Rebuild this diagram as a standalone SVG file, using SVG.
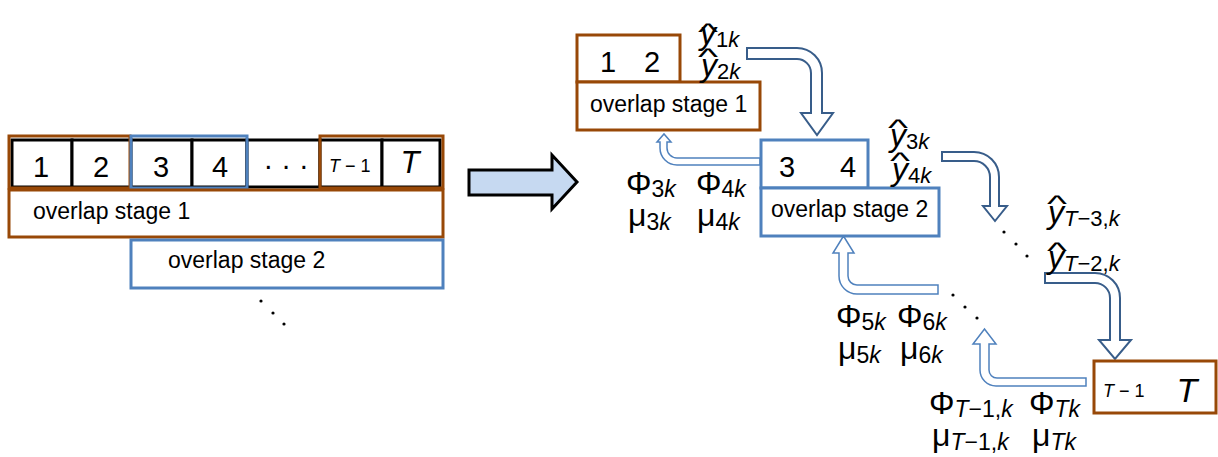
<svg xmlns="http://www.w3.org/2000/svg" width="1218" height="457" viewBox="0 0 1218 457">
<style>
text{font-family:"Liberation Sans",Arial,sans-serif;fill:#000}
.cell{fill:#fff;stroke:#000;stroke-width:3}
.br{fill:none;stroke:#984807;stroke-width:3}
.bl{fill:none;stroke:#4f81bd;stroke-width:3}
.brf{fill:#fff;stroke:#984807;stroke-width:3}
.blf{fill:#fff;stroke:#4f81bd;stroke-width:3}
.d{font-size:29px}
.lab{font-size:23px}
.it{font-style:italic}
.m{font-size:32px}
.s{font-size:23px}
.ys{font-size:22px}
.hat{font-size:24px;font-style:normal}
.dk{fill:#fff;stroke:#385d8a;stroke-width:2}
.lt{fill:#fff;stroke:#4f81bd;stroke-width:1.5}
.dot{fill:#000}
.big{fill:#c6d9f1;stroke:#000;stroke-width:3}
</style>
<rect width="1218" height="457" fill="#fff"/>

<!-- Left: sequence of cells -->
<g id="left-cells">
<rect class="cell" x="12" y="140" width="60" height="47"/>
<rect class="cell" x="72" y="140" width="59" height="47"/>
<rect class="cell" x="131" y="140" width="61" height="47"/>
<rect class="cell" x="192" y="140" width="55" height="47"/>
<rect class="cell" x="247" y="140" width="73" height="47"/>
<rect class="cell" x="320" y="140" width="62" height="47"/>
<rect class="cell" x="382" y="140" width="58" height="47"/>
<text class="d" x="41" y="177" text-anchor="middle">1</text>
<text class="d" x="101" y="177" text-anchor="middle">2</text>
<text class="d" x="161" y="177" text-anchor="middle">3</text>
<text class="d" x="220" y="177" text-anchor="middle">4</text>
<text class="d" x="286" y="175" text-anchor="middle">· · ·</text>
<text x="329" y="172" font-size="18"><tspan class="it">T</tspan> − 1</text>
<text x="410" y="173" font-size="31" class="it" text-anchor="middle">T</text>
</g>
<g id="left-groups">
<rect class="br" x="9" y="136" width="121" height="52"/>
<rect class="bl" x="131" y="136" width="116" height="52"/>
<rect class="br" x="320" y="136" width="123" height="52"/>
</g>
<g id="left-stage1">
<rect class="brf" x="9" y="190" width="434" height="47"/>
<text class="lab" x="33" y="219">overlap stage 1</text>
</g>
<g id="left-stage2">
<rect class="blf" x="131" y="240" width="312" height="48"/>
<text class="lab" x="168" y="268">overlap stage 2</text>
</g>
<g id="left-dots">
<circle class="dot" cx="261" cy="301" r="1.6"/>
<circle class="dot" cx="273" cy="313" r="1.6"/>
<circle class="dot" cx="284" cy="324" r="1.6"/>
</g>

<!-- Big arrow -->
<g id="big-arrow">
<path class="big" d="M469,170 H552 V155 L577,182 L552,209 V195 H469 Z"/>
</g>

<!-- Connectors -->
<g id="connectors">
<path class="dk" d="M747,48 H797 A25,25 0 0 1 822,73 V113 H833 L817,135 L801,113 H811 V73 A14,14 0 0 0 797,59 H747 Z"/>
<path class="dk" d="M942,152 H974 A25,25 0 0 1 999,177 V206 H1007 L995,221 L983,206 H990 V177 A16,16 0 0 0 974,161 H942 Z"/>
<path class="dk" d="M1045,273 H1095 A25,25 0 0 1 1120,298 V340 H1131 L1115,359 L1099,340 H1110 V298 A15,15 0 0 0 1095,283 H1045 Z"/>
<path class="lt" d="M760,158 H677 A10,10 0 0 1 667,148 V142 H671 L664,134 L657,142 H660 V148 A17,17 0 0 0 677,165 H760 Z"/>
<path class="lt" d="M938,285 H857 A9,9 0 0 1 848,276 V253 H854 L843.5,236 L833,253 H839 V276 A18,18 0 0 0 857,294 H938 Z"/>
<path class="lt" d="M1086,378 H997 A8,8 0 0 1 989,370 V344 H996 L984.5,329 L973,344 H980 V370 A16,16 0 0 0 996,386 H1086 Z"/>
</g>

<!-- Right: stage 1 -->
<g id="stage1">
<rect class="brf" x="577" y="35" width="103" height="47"/>
<rect class="brf" x="577" y="82" width="183" height="48"/>
<text class="d" x="608" y="72" text-anchor="middle" font-size="31">1</text>
<text class="d" x="652" y="72" text-anchor="middle" font-size="31">2</text>
<text class="lab" x="590" y="112">overlap stage 1</text>
</g>
<g id="stage2">
<rect class="blf" x="761" y="140" width="107" height="48"/>
<rect class="blf" x="761" y="188" width="178" height="48"/>
<text class="d" x="787" y="177" text-anchor="middle">3</text>
<text class="d" x="848" y="177" text-anchor="middle">4</text>
<text class="lab" x="771" y="217">overlap stage 2</text>
</g>
<g id="stageT">
<rect class="brf" x="1094" y="361" width="122" height="52"/>
<text x="1103" y="397" font-size="18"><tspan class="it">T</tspan> − 1</text>
<text x="1187" y="402" font-size="34" class="it" text-anchor="middle">T</text>
</g>

<!-- y-hat labels -->
<g id="yhat-labels">
<text class="m" x="700" y="44"><tspan class="hat" x="698" y="40" textLength="20" lengthAdjust="spacingAndGlyphs">^</tspan><tspan class="it" x="700" y="44">y</tspan><tspan class="ys" dy="3">1</tspan><tspan class="ys it">k</tspan></text>
<text class="m" x="701" y="76"><tspan class="hat" x="698" y="65" textLength="20" lengthAdjust="spacingAndGlyphs">^</tspan><tspan class="it" x="701" y="76">y</tspan><tspan class="ys" dy="3">2</tspan><tspan class="ys it">k</tspan></text>
<text class="m" x="890" y="146"><tspan class="hat" x="888" y="136" textLength="20" lengthAdjust="spacingAndGlyphs">^</tspan><tspan class="it" x="890" y="146">y</tspan><tspan class="ys" dy="3">3</tspan><tspan class="ys it">k</tspan></text>
<text class="m" x="892" y="180"><tspan class="hat" x="890" y="169" textLength="20" lengthAdjust="spacingAndGlyphs">^</tspan><tspan class="it" x="892" y="180">y</tspan><tspan class="ys" dy="3">4</tspan><tspan class="ys it">k</tspan></text>
<text class="m" x="1048" y="223"><tspan class="hat" x="1047" y="212" textLength="20" lengthAdjust="spacingAndGlyphs">^</tspan><tspan class="it" x="1048" y="223">y</tspan><tspan class="ys it" dy="3">T</tspan><tspan class="ys">−3,</tspan><tspan class="ys it">k</tspan></text>
<text class="m" x="1048" y="268"><tspan class="hat" x="1047" y="259" textLength="20" lengthAdjust="spacingAndGlyphs">^</tspan><tspan class="it" x="1048" y="268">y</tspan><tspan class="ys it" dy="3">T</tspan><tspan class="ys">−2,</tspan><tspan class="ys it">k</tspan></text>
</g>

<!-- Phi / mu labels -->
<g id="phi-mu-labels">
<text class="m" x="626" y="194">Φ<tspan class="s" dy="3">3</tspan><tspan class="s it">k</tspan></text>
<text class="m" x="696" y="194">Φ<tspan class="s" dy="3">4</tspan><tspan class="s it">k</tspan></text>
<text class="m" x="628" y="226">μ<tspan class="s" dy="4">3</tspan><tspan class="s it">k</tspan></text>
<text class="m" x="697" y="226">μ<tspan class="s" dy="4">4</tspan><tspan class="s it">k</tspan></text>
<text class="m" x="836" y="327">Φ<tspan class="s" dy="3">5</tspan><tspan class="s it">k</tspan></text>
<text class="m" x="897" y="327">Φ<tspan class="s" dy="3">6</tspan><tspan class="s it">k</tspan></text>
<text class="m" x="838" y="359">μ<tspan class="s" dy="4">5</tspan><tspan class="s it">k</tspan></text>
<text class="m" x="900" y="359">μ<tspan class="s" dy="4">6</tspan><tspan class="s it">k</tspan></text>
<text class="m" x="929" y="414">Φ<tspan class="s it" dy="3">T</tspan><tspan class="s">−1,</tspan><tspan class="s it">k</tspan></text>
<text class="m" x="1029" y="414">Φ<tspan class="s it" dy="3">Tk</tspan></text>
<text class="m" x="932" y="446">μ<tspan class="s it" dy="4">T</tspan><tspan class="s">−1,</tspan><tspan class="s it">k</tspan></text>
<text class="m" x="1032" y="446">μ<tspan class="s it" dy="4">Tk</tspan></text>
</g>

<g id="right-dots">
<circle class="dot" cx="1004" cy="232" r="1.6"/>
<circle class="dot" cx="1016" cy="244" r="1.6"/>
<circle class="dot" cx="1027" cy="256" r="1.6"/>
<circle class="dot" cx="953" cy="295" r="1.6"/>
<circle class="dot" cx="965" cy="307" r="1.6"/>
<circle class="dot" cx="977" cy="318" r="1.6"/>
</g>
</svg>
